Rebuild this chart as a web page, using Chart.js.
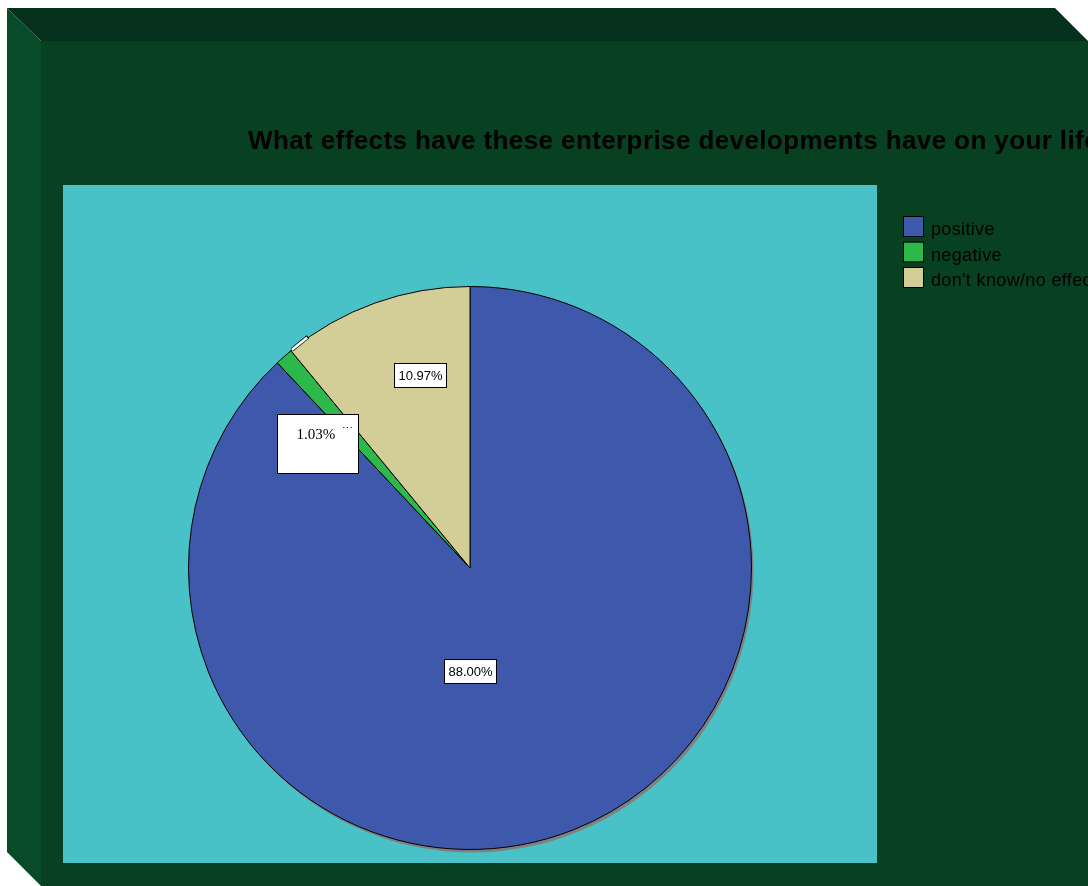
<!DOCTYPE html>
<html>
<head>
<meta charset="utf-8">
<title>Enterprise developments</title>
<script src="https://cdn.jsdelivr.net/npm/chart.js@4/dist/chart.umd.min.js"></script>
<style>
  html, body { margin: 0; padding: 0; background: #fff; }
  canvas { display: block; }
</style>
</head>
<body>
<canvas id="pie" width="1088" height="886"></canvas>
<script>
// survey answers, shares in percent
const categories = ['positive', 'negative', "don't know/no effect"];
const shares = [88.00, 1.03, 10.97];
const valueLabels = ['88.00%', '1.03%', '10.97%'];

const colors = {
  frontFace: 'rgb(8, 65, 33)',
  topFace: 'rgb(5, 48, 27)',
  sideFace: 'rgb(8, 75, 40)',
  plotArea: 'rgb(72, 194, 198)',
  positive: 'rgb(62, 88, 171)',
  negative: 'rgb(45, 184, 75)',
  unknown: 'rgb(211, 206, 152)',
};

const titleText = 'What effects have these enterprise developments have on your life?';

// label box placement: angle (deg, canvas coords), fraction of radius, box w/h
const labelSpots = [
  { angle: 90, dist: 0.365, w: 52, h: 24 },
  { angle: -140.8, dist: 0.698, w: 81, h: 59 },
  { angle: -104.5, dist: 0.71, w: 52, h: 24 },
];

const framePlugin = {
  id: 'frame',
  beforeDraw(chart) {
    const ctx = chart.ctx;
    const W = chart.width, H = chart.height;
    ctx.save();
    ctx.fillStyle = '#fff';
    ctx.fillRect(0, 0, W, H);
    // front face
    ctx.fillStyle = colors.frontFace;
    ctx.fillRect(41, 41, W - 41, H - 41);
    // top bevel
    ctx.fillStyle = colors.topFace;
    ctx.beginPath();
    ctx.moveTo(7, 8); ctx.lineTo(1055, 8); ctx.lineTo(1088, 41); ctx.lineTo(41, 41);
    ctx.closePath(); ctx.fill();
    // left bevel
    ctx.fillStyle = colors.sideFace;
    ctx.beginPath();
    ctx.moveTo(7, 8); ctx.lineTo(41, 41); ctx.lineTo(41, 886); ctx.lineTo(7, 852);
    ctx.closePath(); ctx.fill();
    // plot area
    ctx.fillStyle = colors.plotArea;
    ctx.fillRect(63, 185, 814, 678);
    // title (runs off the right edge)
    ctx.fillStyle = '#000';
    ctx.font = 'bold 26px "Liberation Sans", Arial, sans-serif';
    ctx.letterSpacing = '0.4px';
    ctx.textBaseline = 'alphabetic';
    ctx.textAlign = 'left';
    ctx.fillText(titleText, 248, 149);
    ctx.letterSpacing = '0px';
    ctx.restore();
  },
  beforeDatasetsDraw(chart) {
    // drop shadow under the pie
    const arc = chart.getDatasetMeta(0).data[0];
    if (!arc) return;
    const { x, y, outerRadius } = arc.getProps(['x', 'y', 'outerRadius'], true);
    const ctx = chart.ctx;
    ctx.save();
    ctx.fillStyle = 'rgb(128, 128, 128)';
    ctx.beginPath();
    ctx.arc(x + 2, y + 3, outerRadius, 0, Math.PI * 2);
    ctx.fill();
    ctx.restore();
  },
  afterDatasetsDraw(chart) {
    const ctx = chart.ctx;
    const meta = chart.getDatasetMeta(0);
    ctx.save();
    meta.data.forEach((arc, i) => {
      const { x, y, outerRadius } = arc.getProps(['x', 'y', 'outerRadius'], true);
      const spot = labelSpots[i];
      const a = spot.angle * Math.PI / 180;
      const cx = x + Math.cos(a) * outerRadius * spot.dist;
      const cy = y + Math.sin(a) * outerRadius * spot.dist;
      const bx = Math.round(cx - spot.w / 2) + 0.5;
      const by = Math.round(cy - spot.h / 2) + 0.5;
      ctx.fillStyle = '#fff';
      ctx.strokeStyle = '#000';
      ctx.lineWidth = 1;
      ctx.fillRect(bx, by, spot.w, spot.h);
      ctx.strokeRect(bx, by, spot.w, spot.h);
      ctx.fillStyle = '#000';
      if (i === 1) {
        // small slice: serif label sitting at the top of its box, with a leader stub
        ctx.font = '15px "Liberation Serif", "Times New Roman", serif';
        ctx.textAlign = 'left';
        ctx.textBaseline = 'alphabetic';
        ctx.fillText(valueLabels[i], bx + 19, by + 24);
        ctx.font = '11px "Liberation Serif", serif';
        ctx.fillText('\u22EF', bx + 64, by + 17);

        const end = arc.getProps(['endAngle'], true).endAngle;
        const px = x + Math.cos(end) * outerRadius;
        const py = y + Math.sin(end) * outerRadius;
        const tx = -Math.sin(end), ty = Math.cos(end);
        ctx.lineCap = 'butt';
        ctx.strokeStyle = '#000';
        ctx.lineWidth = 4;
        ctx.beginPath();
        ctx.moveTo(px + 1, py - 1);
        ctx.lineTo(px + tx * 22, py + ty * 22);
        ctx.stroke();
        ctx.strokeStyle = '#fff';
        ctx.lineWidth = 2.5;
        ctx.beginPath();
        ctx.moveTo(px + 1, py - 1);
        ctx.lineTo(px + tx * 21, py + ty * 21);
        ctx.stroke();
      } else {
        ctx.font = '13px "Liberation Sans", Arial, sans-serif';
        ctx.textAlign = 'center';
        ctx.textBaseline = 'middle';
        ctx.fillText(valueLabels[i], bx + spot.w / 2, by + spot.h / 2 + 1);
      }
    });
    ctx.restore();
  },
  afterDraw(chart) {
    // legend, built from the chart's own labels and colours
    const ctx = chart.ctx;
    const ds = chart.data.datasets[0];
    ctx.save();
    ctx.font = '18px "Liberation Sans", Arial, sans-serif';
    ctx.letterSpacing = '0.35px';
    ctx.textAlign = 'left';
    ctx.textBaseline = 'alphabetic';
    chart.data.labels.forEach((label, i) => {
      const y = 217 + i * 25.5;
      ctx.fillStyle = ds.backgroundColor[i];
      ctx.fillRect(904, y, 19, 19);
      ctx.strokeStyle = '#000';
      ctx.lineWidth = 1;
      ctx.strokeRect(903.5, y - 0.5, 20, 20);
      ctx.fillStyle = '#000';
      ctx.fillText(label, 931, y + 18);
    });
    ctx.letterSpacing = '0px';
    ctx.restore();
  },
};

new Chart(document.getElementById('pie'), {
  type: 'pie',
  data: {
    labels: categories,
    datasets: [{
      data: shares,
      backgroundColor: [colors.positive, colors.negative, colors.unknown],
      borderColor: '#000',
      borderWidth: 1,
    }],
  },
  options: {
    responsive: false,
    animation: false,
    devicePixelRatio: 1,
    layout: {
      padding: { left: 188, right: 336, top: 286, bottom: 36 },
    },
    plugins: {
      legend: { display: false },
      title: { display: false },
      tooltip: { enabled: false },
    },
  },
  plugins: [framePlugin],
});
</script>
</body>
</html>
